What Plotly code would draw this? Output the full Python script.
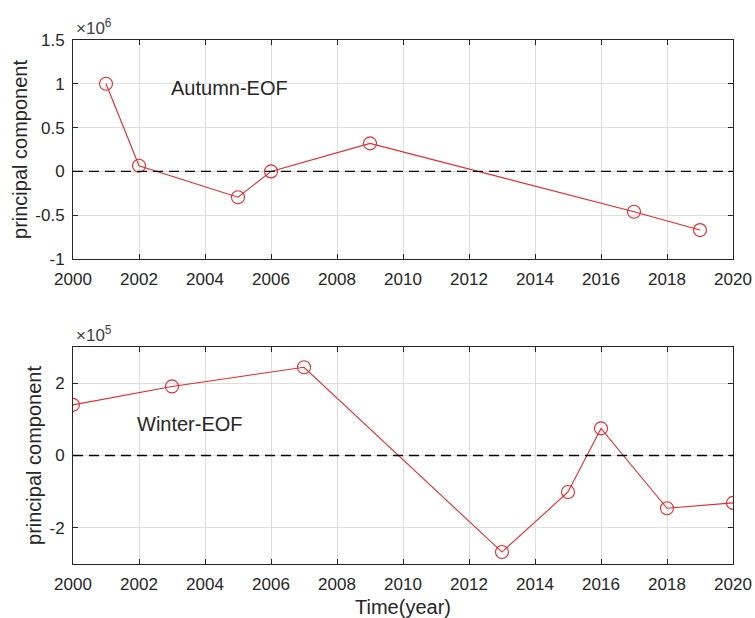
import plotly.graph_objects as go

# Principal component time series (first EOF mode)
autumn_years = [2001, 2002, 2005, 2006, 2009, 2017, 2019]
autumn_pc = [1.00e6, 0.065e6, -0.295e6, 0.0e6, 0.32e6, -0.46e6, -0.67e6]

winter_years = [2000, 2003, 2007, 2013, 2015, 2016, 2018, 2020]
winter_pc = [1.40e5, 1.91e5, 2.44e5, -2.67e5, -1.01e5, 0.75e5, -1.46e5, -1.31e5]

x_ticks = list(range(2000, 2021, 2))
autumn_yticks = [-1e6, -0.5e6, 0, 0.5e6, 1e6, 1.5e6]
autumn_ytext = ["-1", "-0.5", "0", "0.5", "1", "1.5"]
winter_yticks = [-2e5, 0, 2e5]
winter_ytext = ["-2", "0", "2"]

W, H = 755, 618
FONT = "Liberation Sans, Arial, sans-serif"
TXT = "#262626"
RED = "#e8282a"

def px_x(p):
    return p / W

def px_y(p):
    return 1 - p / H

fig = go.Figure()

fig.add_trace(go.Scatter(
    x=autumn_years, y=autumn_pc, mode="lines+markers",
    line=dict(color=RED, width=1.1),
    marker=dict(symbol="circle-open", size=13, color=RED, line=dict(width=1.1)),
    xaxis="x", yaxis="y", showlegend=False))

fig.add_trace(go.Scatter(
    x=winter_years, y=winter_pc, mode="lines+markers",
    line=dict(color=RED, width=1.1),
    marker=dict(symbol="circle-open", size=13, color=RED, line=dict(width=1.1)),
    xaxis="x2", yaxis="y2", showlegend=False))

# zero reference lines
for xr, yr in (("x", "y"), ("x2", "y2")):
    fig.add_shape(type="line", xref=f"{xr} domain", yref=yr,
                  x0=0, x1=1, y0=0, y1=0,
                  line=dict(color="black", width=1.3, dash="10px,6px"))

axis_common = dict(
    showline=True, linecolor=TXT, linewidth=1, mirror="allticks",
    ticks="inside", ticklen=5, tickcolor=TXT,
    showgrid=True, gridcolor="#dedede", gridwidth=1,
    zeroline=False, automargin=False,
    tickfont=dict(family=FONT, size=17, color=TXT),
)

TITLE_FONT = dict(family=FONT, size=20, color=TXT)
xdom = [px_x(73), px_x(733)]

fig.update_layout(
    width=W, height=H,
    margin=dict(l=0, r=0, t=0, b=0),
    paper_bgcolor="white", plot_bgcolor="white",
    font=dict(family=FONT, color=TXT),
    xaxis=dict(domain=xdom, range=[2000, 2020], tickvals=x_ticks,
               anchor="y", ticklabelstandoff=5, **axis_common),
    yaxis=dict(domain=[px_y(259), px_y(40)], range=[-1e6, 1.5e6],
               tickvals=autumn_yticks, ticktext=autumn_ytext, anchor="x",
               ticklabelstandoff=4,
               title=dict(text="principal component", font=TITLE_FONT, standoff=2),
               **axis_common),
    xaxis2=dict(domain=xdom, range=[2000, 2020], tickvals=x_ticks,
                anchor="y2", ticklabelstandoff=5,
                title=dict(text="Time(year)", font=TITLE_FONT, standoff=6),
                **axis_common),
    yaxis2=dict(domain=[px_y(564), px_y(347)], range=[-3e5, 3e5],
                tickvals=winter_yticks, ticktext=winter_ytext, anchor="x2",
                ticklabelstandoff=4,
                title=dict(text="principal component", font=TITLE_FONT, standoff=2),
                **axis_common),
)

# exponent labels and panel names
fig.add_annotation(text="×10<sup>6</sup>", xref="paper", yref="paper",
                   x=px_x(74), y=px_y(40), xanchor="left", yanchor="bottom",
                   showarrow=False, font=dict(family=FONT, size=17, color="#404040"))
fig.add_annotation(text="×10<sup>5</sup>", xref="paper", yref="paper",
                   x=px_x(74), y=px_y(347), xanchor="left", yanchor="bottom",
                   showarrow=False, font=dict(family=FONT, size=17, color="#404040"))
fig.add_annotation(text="Autumn-EOF", xref="x", yref="y",
                   x=2004.75, y=0.95e6, xanchor="center", yanchor="middle",
                   showarrow=False, font=TITLE_FONT)
fig.add_annotation(text="Winter-EOF", xref="x2", yref="y2",
                   x=2003.55, y=0.88e5, xanchor="center", yanchor="middle",
                   showarrow=False, font=TITLE_FONT)

fig.write_html("out.html")
